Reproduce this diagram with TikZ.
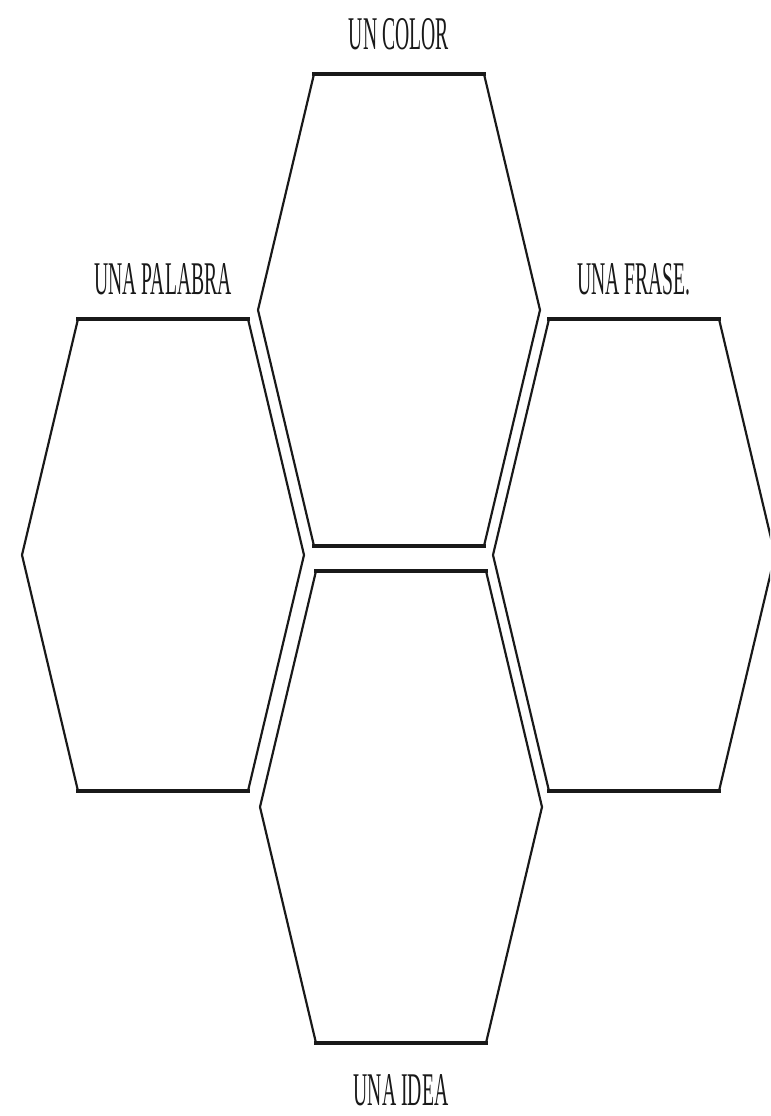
\documentclass[tikz,border=0pt]{standalone}
\usepackage{fontspec}
\setmainfont{Liberation Serif}
\usepackage{graphicx}
\usetikzlibrary{calc,positioning}
\tikzset{
  hexa/.style  = {draw=black!90, line width=0.65mm, line join=miter},
  hedge/.style = {draw=black!90, line width=0.95mm, line cap=rect},
  lbl/.style   = {inner sep=0pt, text=black!90, font=\fontsize{40}{40}\selectfont},
}
\newcommand{\slim}[1]{\scalebox{0.42}[1]{#1}}
\newcommand{\hexcell}[1]{%
  \draw[hexa] ($(#1)+(-85,-236)$) -- ++(170,0) -- ++(56,236) -- ++(-56,236)
    -- ++(-170,0) -- ++(-56,-236) -- cycle;
  \draw[hedge] ($(#1)+(-85,-236)$) -- ++(170,0);
  \draw[hedge] ($(#1)+(-85,236)$) -- ++(170,0);}

\begin{document}
\begin{tikzpicture}[x=0.3mm, y=-0.3mm, node distance=7mm]
  \useasboundingbox (0,0) rectangle (770,1116);
  \clip (0,0) rectangle (770,1116);

  % centres of the four cells
  \coordinate (color)   at (399,310);
  \coordinate (palabra) at (163,555);
  \coordinate (frase)   at (634,555);
  \coordinate (idea)    at (401,807);

  \hexcell{color}
  \hexcell{palabra}
  \hexcell{frase}
  \hexcell{idea}

  % labels
  \coordinate (color-top)   at ($(color)+(0,-236)$);
  \coordinate (palabra-top) at ($(palabra)+(0,-236)$);
  \coordinate (frase-top)   at ($(frase)+(0,-236)$);
  \coordinate (idea-bot)    at ($(idea)+(0,236)$);
  \node[lbl, above=of color-top]   (lcolor)   {\slim{UN COLOR}};
  \node[lbl, above=of palabra-top] (lpalabra) {\slim{UNA PALABRA}};
  \node[lbl, above=of frase-top]   (lfrase)   {\slim{UNA FRASE.}};
  \node[lbl, below=9.5mm of idea-bot] (lidea) {\slim{UNA IDEA}};
\end{tikzpicture}
\end{document}
